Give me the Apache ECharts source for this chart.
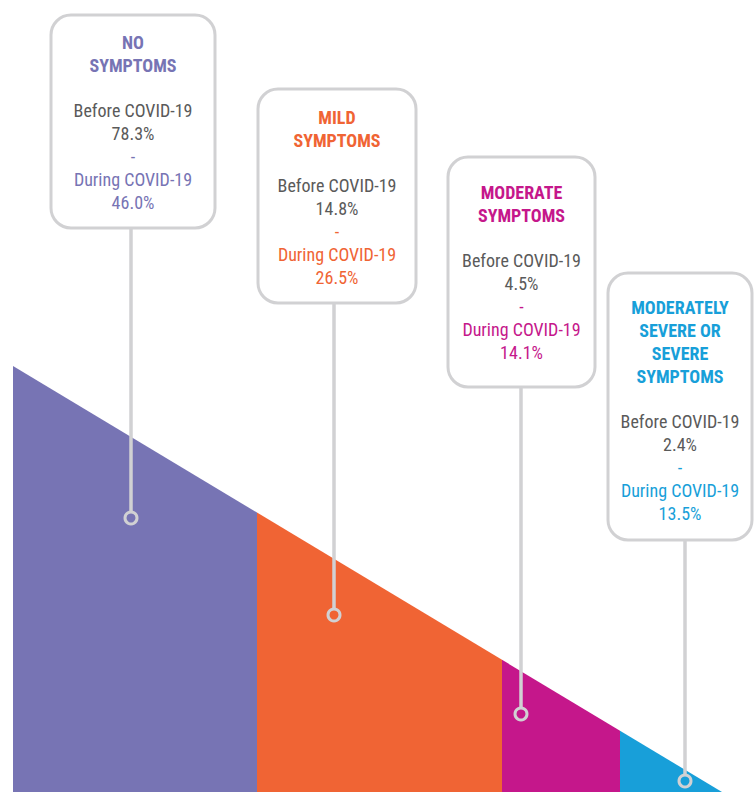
<!DOCTYPE html>
<html><head><meta charset="utf-8">
<script src="https://cdn.jsdelivr.net/npm/echarts@6/dist/echarts.min.js"></script>
<style>html,body{margin:0;padding:0;background:#fff}#c{width:755px;height:792px}</style>
</head><body><div id="c"></div>
<script>
// ---- data ----
const categories = ['NO\nSYMPTOMS', 'MILD\nSYMPTOMS', 'MODERATE\nSYMPTOMS', 'MODERATELY\nSEVERE OR\nSEVERE\nSYMPTOMS'];
const beforeCovid = [78.3, 14.8, 4.5, 2.4];
const duringCovid = [46.0, 26.5, 14.1, 13.5];
const beforeLabel = 'Before COVID-19';
const duringLabel = 'During COVID-19';

// ---- styles / layout (axis units, measured top-down) ----
const colors = ['#7774B4', '#F06434', '#C5178B', '#189FD9'];
const W = 755, H = 792;
const ramp = {x0: 13, top: 366, x1: 722};
const bandEdges = [13, 257, 502, 620, 722];
const boxes = [
  {x: 51, y: 15, w: 164, h: 213, dy: 1},
  {x: 258, y: 89, w: 158, h: 214, dy: 1},
  {x: 448, y: 157, w: 147, h: 230, dy: 0},
  {x: 608, y: 273, w: 144, h: 267, dy: 4}
];
const pins = [{x: 131, y: 518}, {x: 334, y: 615}, {x: 521, y: 714}, {x: 685, y: 781}];
const FONT = '"Liberation Sans Narrow", "Roboto Condensed", "DejaVu Sans Condensed", "Liberation Sans", sans-serif';
const GREY = '#5a5a5a', LINE = '#D1D1D3';

function rampH(x) { return (H - ramp.top) * (ramp.x1 - x) / (ramp.x1 - ramp.x0); }

const chart = echarts.init(document.getElementById('c'), null, {renderer: 'svg'});

chart.setOption({
  animation: false,
  grid: {left: 0, right: 0, top: 0, bottom: 0},
  xAxis: {type: 'value', min: 0, max: W, show: false},
  yAxis: {type: 'value', min: 0, max: H, show: false},
  series: [
    {
      type: 'custom',
      z: 1,
      data: categories.map((c, i) => [i, duringCovid[i]]),
      renderItem: function (params, api) {
        const i = params.dataIndex;
        const xa = bandEdges[i], xb = bandEdges[i + 1];
        const pts = [[xa, rampH(xa)], [xb, rampH(xb)], [xb, 0], [xa, 0]].map(p => api.coord(p));
        return {
          type: 'polygon',
          shape: {points: pts},
          style: {fill: colors[i]}
        };
      }
    },
    {
      type: 'custom',
      z: 5,
      data: categories.map((c, i) => [i, beforeCovid[i], duringCovid[i]]),
      renderItem: function (params, api) {
        const i = params.dataIndex;
        const b = boxes[i], p = pins[i];
        const tl = api.coord([b.x, H - b.y]);
        const br = api.coord([b.x + b.w, H - b.y - b.h]);
        const pc = api.coord([p.x, H - p.y]);
        const lineTop = api.coord([p.x, H - b.y - b.h]);
        const title = categories[i].split('\n').map(s => '{t|' + s + '}').join('\n');
        const text = title + '\n{g| }\n{b|' + beforeLabel + '}\n{b|' + api.value(1).toFixed(1) + '%}\n{d|-}\n{d|' + duringLabel + '}\n{d|' + api.value(2).toFixed(1) + '%}';
        const col = colors[i];
        return {
          type: 'group',
          children: [
            {type: 'line', shape: {x1: lineTop[0], y1: lineTop[1], x2: pc[0], y2: pc[1] - 6},
             style: {stroke: LINE, lineWidth: 3.5}},
            {type: 'circle', shape: {cx: pc[0], cy: pc[1], r: 6},
             style: {fill: 'none', stroke: LINE, lineWidth: 3}},
            {type: 'rect', shape: {x: tl[0], y: tl[1], width: br[0] - tl[0], height: br[1] - tl[1], r: 20},
             style: {fill: '#fff', stroke: LINE, lineWidth: 3}},
            {type: 'text', x: (tl[0] + br[0]) / 2, y: (tl[1] + br[1]) / 2 + b.dy,
             style: {
               text: text, align: 'center', verticalAlign: 'middle',
               fontFamily: FONT,
               rich: {
                 t: {fontFamily: FONT, fontSize: 18, fontWeight: 'bold', lineHeight: 23, fill: col, align: 'center'},
                 g: {fontFamily: FONT, fontSize: 10, lineHeight: 22, align: 'center'},
                 b: {fontFamily: FONT, fontSize: 18, lineHeight: 23, fill: GREY, align: 'center'},
                 d: {fontFamily: FONT, fontSize: 18, lineHeight: 23, fill: col, align: 'center'}
               }
             }}
          ]
        };
      }
    }
  ]
});
</script>
</body></html>
